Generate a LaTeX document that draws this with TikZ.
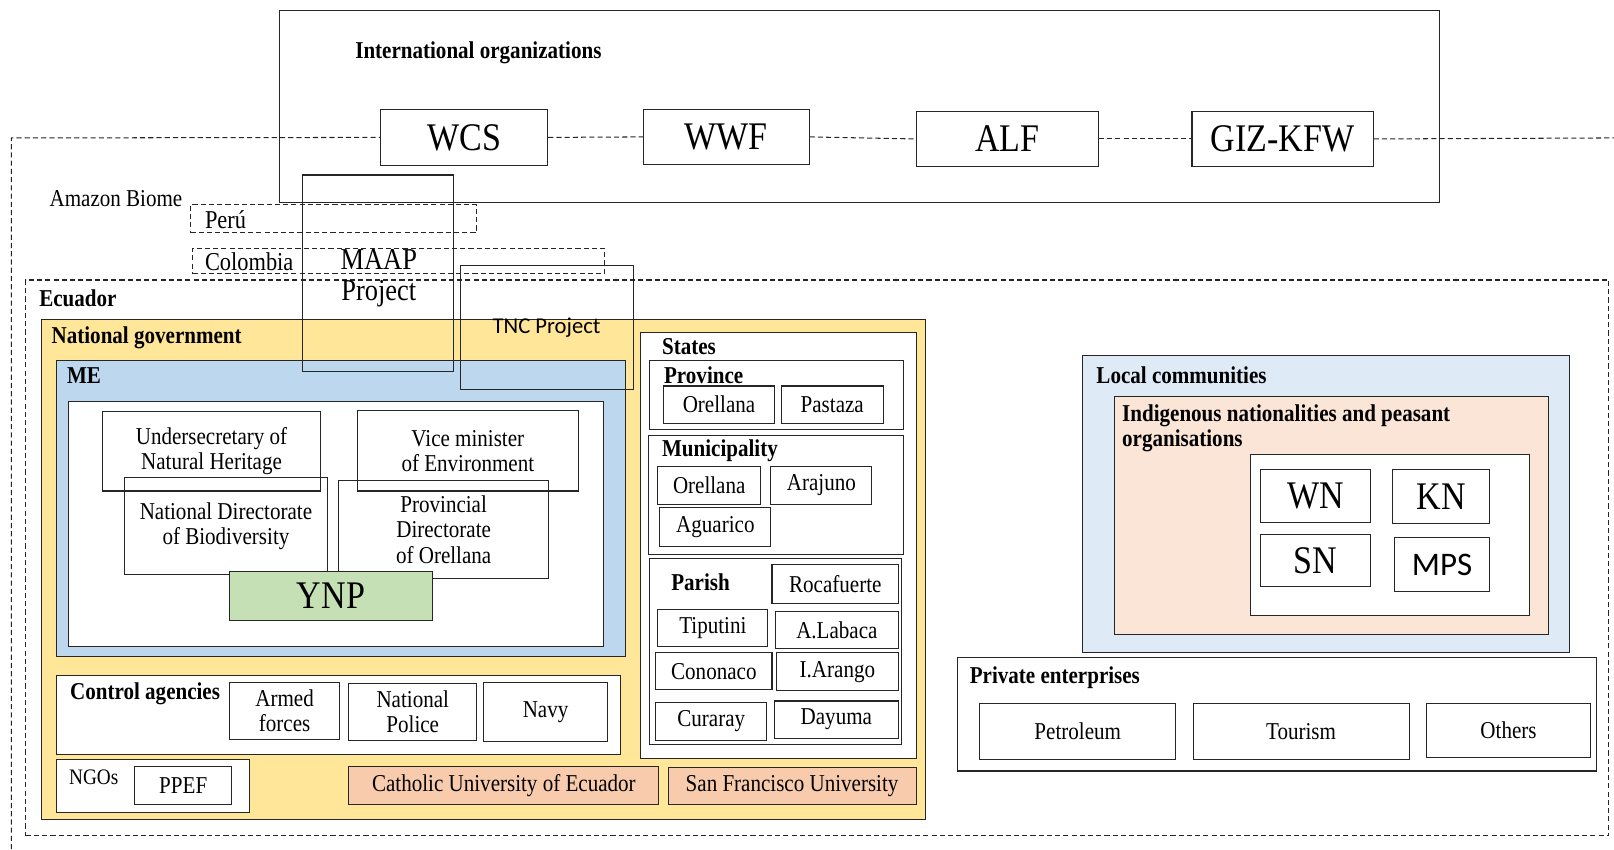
\documentclass[tikz,border=0pt]{standalone}
\usepackage{fontspec}
\setmainfont{Liberation Serif}[FakeStretch=0.87]
\newfontfamily\calfont{Carlito}
\definecolor{yel}{HTML}{FFE699}
\definecolor{meblue}{HTML}{BDD7EE}
\definecolor{ynpg}{HTML}{C5E0B4}
\definecolor{uni}{HTML}{F8CBAD}
\definecolor{lcblue}{HTML}{DEEBF7}
\definecolor{indig}{HTML}{FBE5D6}
\newcommand\fs{\fontsize{23.5}{24.5}\selectfont}
\newcommand\bx[7][]{%
  \pgfmathsetmacro\bxw{#5-#3}\pgfmathsetmacro\bxh{#6-#4}%
  \node[bxs,#1,minimum width=\bxw pt,minimum height=\bxh pt] (#2) at ({(#3+#5)/2},{(#4+#6)/2}) {#7};}
\tikzset{
  bxs/.style={draw=black!85, line width=1pt, inner sep=0pt, align=center, font=\fs},
  big/.style={font=\fontsize{38}{40}\selectfont},
  ttl/.style={font=\fs\bfseries, inner sep=0pt, anchor=west, align=left},
  plain/.style={font=\fs, inner sep=0pt, anchor=west, align=left},
  dsh/.style={dash pattern=on 5pt off 3pt, line width=1pt, draw=black!85},
}
\begin{document}
\begin{tikzpicture}[x=1pt,y=-1pt]
\useasboundingbox (0,0) rectangle (1568,825);
% International organizations
\bx{io}{272}{10}{1398}{197}{}
\node[ttl] (tIO) at (345,51) {International organizations};
\bx[big,fill=white]{wcs}{370}{106}{532}{161}{WCS}
\bx[big,fill=white]{wwf}{625}{106}{786}{160}{WWF}
\bx[big,fill=white]{alf}{890}{108}{1067}{162}{ALF}
\bx[big,fill=white]{giz}{1158}{108}{1334}{162}{GIZ-KFW}
% Amazon biome
\coordinate (bioBL) at (11,825);
\coordinate (bioTL) at (11,134);
\coordinate (bioTR) at (1568,134);
\draw[dsh] (bioBL) -- (bioTL) -- (wcs.west);
\draw[dsh] (wcs.east) -- (wwf.west);
\draw[dsh] (wwf.east) -- (alf.west);
\draw[dsh] (alf.east) -- (giz.west);
\draw[dsh] (giz.east) -- (bioTR);
\node[plain] (tAmz) at (48,193) {Amazon Biome};
\bx[dsh]{peru}{185}{199}{463}{226}{}
\node[plain,font=\fontsize{25}{26}\selectfont] (tPeru) at (199,213) {Perú};
\bx[dsh]{col}{187}{241}{587}{266}{}
\node[plain,font=\fontsize{25}{26}\selectfont] (tCol) at (199,254) {Colombia};
% Ecuador
\bx[dsh]{ecu}{25}{272}{1563}{812}{}
\node[ttl] (tEcu) at (38,290) {Ecuador};
% National government
\bx[fill=yel]{natgov}{40}{310}{899}{796}{}
\node[ttl] (tNat) at (50,328) {National government};
\bx[fill=meblue]{me}{55}{350}{608}{638}{}
\node[ttl] (tME) at (65,365) {ME};
\bx[fill=white]{mein}{67}{390}{586}{628}{}
\bx{under}{100}{400}{311}{477}{Undersecretary of\\Natural Heritage}
\bx{vice}{347}{399}{562}{477}{Vice minister\\of Environment}
\bx{natdir}{121}{464}{318}{558}{National Directorate\\of Biodiversity}
\bx{provdir}{329}{467}{533}{562}{Provincial\\Directorate\\of Orellana}
\bx[fill=ynpg,big]{ynp}{223}{555}{420}{603}{YNP}
% control agencies
\bx[fill=white]{ctrl}{55}{656}{603}{733}{}
\node[ttl] (tCtrl) at (68,674) {Control agencies};
\bx[fill=white]{armed}{223}{663}{330}{718}{Armed\\forces}
\bx[fill=white]{police}{339}{664}{463}{719}{National\\Police}
\bx[fill=white]{navy}{470}{663}{590}{720}{Navy}
% NGOs
\bx[fill=white]{ngo}{55}{738}{242}{789}{}
\node[plain,font=\fontsize{21.5}{22}\selectfont] (tNGO) at (67,755) {NGOs};
\bx[fill=white]{ppef}{131}{745}{225}{782}{PPEF}
\bx[fill=uni]{cath}{339}{745}{640}{782}{Catholic University of Ecuador}
\bx[fill=uni]{sfu}{649}{746}{890}{782}{San Francisco University}
% States
\bx[fill=white]{states}{622}{323}{890}{737}{}
\node[ttl] (tStates) at (643,337) {States};
\bx{prov}{631}{350}{878}{417}{}
\node[ttl] (tProv) at (645,365) {Province};
\bx{provOre}{645}{375}{752}{411}{Orellana}
\bx{provPas}{759}{375}{858}{411}{Pastaza}
\bx{mun}{630}{423}{878}{539}{}
\node[ttl] (tMun) at (643,438) {Municipality};
\bx{munOre}{639}{453}{739}{490}{Orellana}
\bx{munAra}{749}{453}{847}{490}{Arajuno}
\bx{munAgu}{641}{493}{749}{531}{Aguarico}
\bx{par}{631}{543}{876}{723}{}
\node[ttl] (tPar) at (652,566) {Parish};
\bx{parRoc}{750}{548}{873}{586}{Rocafuerte}
\bx{parTip}{639}{592}{746}{628}{Tiputini}
\bx{parLab}{753}{594}{873}{630}{A.Labaca}
\bx{parCon}{637}{634}{750}{670}{Cononaco}
\bx{parIAr}{754}{634}{873}{671}{I.Arango}
\bx{parCur}{637}{682}{745}{719}{Curaray}
\bx{parDay}{752}{681}{873}{717}{Dayuma}
% Local communities
\bx[fill=lcblue]{local}{1052}{345}{1525}{634}{}
\node[ttl] (tLocal) at (1065,365) {Local communities};
\bx[fill=indig]{indig}{1083}{385}{1504}{616}{}
\node[ttl] (tIndig) at (1090,416) {Indigenous nationalities and peasant\\organisations};
\bx[fill=white]{indin}{1215}{442}{1486}{598}{}
\bx[big]{wn}{1225}{456}{1331}{508}{WN}
\bx[big]{kn}{1353}{456}{1447}{509}{KN}
\bx[big]{sn}{1225}{519}{1331}{570}{SN}
\bx[font=\calfont\fontsize{32}{34}\selectfont]{mps}{1355}{522}{1447}{575}{MPS}
% Private enterprises
\bx[fill=white]{priv}{930}{639}{1551}{749}{}
\node[ttl] (tPriv) at (942,658) {Private enterprises};
\bx{pet}{952}{683}{1142}{738}{Petroleum}
\bx{tour}{1159}{683}{1369}{738}{Tourism}
\bx{oth}{1386}{683}{1545}{736}{Others}
% Projects (transparent, on top)
\bx{maap}{294}{170}{441}{361}{}
\node[inner sep=0pt, align=center, font=\fontsize{29.5}{30}\selectfont] (tMaap) at (368,270) {MAAP\\Project};
\bx[font=\calfont\fontsize{22}{24}\selectfont]{tnc}{447}{258}{615}{378}{TNC Project}
\end{tikzpicture}
\end{document}
